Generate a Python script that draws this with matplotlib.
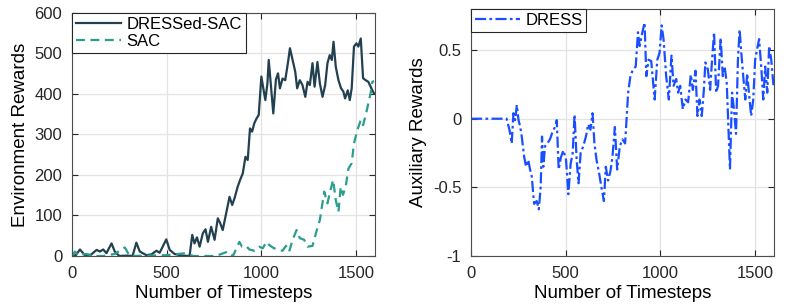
import matplotlib
matplotlib.use("Agg")
import matplotlib.pyplot as plt
import numpy as np

plt.rcParams["font.family"] = ["Liberation Sans", "DejaVu Sans"]

# DRESSed-SAC
dsac_t = [0, 20, 42, 68, 100, 130, 147, 165, 182, 209, 226, 250, 290, 320, 340, 358,
          393, 420, 446, 463, 498, 516, 542, 580, 621, 635, 647, 660, 674, 691, 705,
          718, 735, 753, 770, 782, 796, 814, 832, 846, 858, 875, 888, 902, 916, 928,
          940, 951, 963, 975, 986, 1000, 1011, 1021, 1032, 1039, 1051, 1063, 1077,
          1088, 1098, 1112, 1126, 1140, 1151, 1165, 1179, 1189, 1203, 1217, 1232,
          1244, 1256, 1270, 1281, 1296, 1309, 1323, 1337, 1349, 1361, 1372, 1381,
          1393, 1407, 1421, 1433, 1442, 1456, 1467, 1477, 1489, 1502, 1512, 1525,
          1537, 1551, 1565, 1579, 1595]
dsac_v = [0, 2, 16, 2, 3, 15, 11, 16, 7, 31, 11, 0, 1, 0, 33, 11,
          2, 4, 13, 8, 41, 15, 5, 1, 0, 52, 31, 46, 23, 56, 66,
          35, 72, 40, 93, 82, 64, 105, 146, 126, 142, 171, 188, 204, 245, 237,
          315, 307, 328, 340, 348, 443, 412, 385, 426, 484, 418, 352, 436,
          451, 414, 438, 434, 476, 513, 484, 455, 414, 434, 422, 393,
          430, 422, 476, 418, 479, 426, 393, 422, 476, 496, 484, 529,
          467, 434, 414, 406, 389, 409, 385, 414, 517, 525, 517, 537,
          439, 434, 430, 416, 401]

# SAC
sac_t = [0, 16, 33, 55, 77, 112, 165, 226, 279, 305, 400, 500, 603, 640, 700, 760,
         823, 850, 884, 898, 919, 937, 963, 989, 1007, 1028, 1042, 1060, 1086,
         1112, 1130, 1147, 1165, 1186, 1203, 1226, 1244, 1270, 1288, 1309, 1332,
         1349, 1361, 1379, 1393, 1407, 1419, 1431, 1445, 1460, 1477, 1489, 1507,
         1525, 1537, 1551, 1565, 1577, 1586, 1595]
sac_v = [0, 11, 2, 4, 5, 0, 0, 5, 21, 0, 1, 2, 7, 0, 0, 0,
         11, 0, 35, 23, 25, 16, 13, 23, 19, 35, 27, 21, 15,
         13, 25, 11, 40, 64, 44, 40, 23, 25, 56, 89, 159,
         130, 155, 188, 138, 109, 171, 151, 171, 216, 229, 278, 311,
         336, 323, 348, 377, 402, 430, 432]

# DRESS auxiliary reward (right panel)
dress_t = [0, 188, 203, 215, 224, 233, 242, 251, 260, 268, 281, 291, 302, 312, 321,
           333, 347, 358, 368, 375, 382, 391, 403, 417, 432, 444, 453, 463, 475,
           488, 502, 514, 526, 537, 547, 558, 568, 579, 593, 607, 619, 631, 642,
           652, 663, 677, 689, 702, 712, 724, 737, 747, 760, 772, 786, 800, 814,
           830, 842, 856, 870, 882, 891, 905, 917, 926, 938, 952, 970, 984, 996,
           1007, 1017, 1031, 1045, 1059, 1070, 1084, 1094, 1105, 1119, 1133, 1147,
           1161, 1172, 1186, 1196, 1207, 1219, 1230, 1238, 1251, 1263, 1273, 1284,
           1295, 1305, 1319, 1330, 1340, 1351, 1361, 1368, 1379, 1389, 1400, 1410,
           1419, 1428, 1438, 1449, 1459, 1470, 1480, 1491, 1501, 1512, 1522, 1533,
           1544, 1554, 1565, 1575, 1586, 1598]
dress_v = [0, 0, -0.08, -0.18, 0.04, -0.01, 0.10, -0.01, -0.06, -0.13, -0.28, -0.35,
           -0.30, -0.37, -0.42, -0.62, -0.60, -0.66, -0.50, -0.13, -0.35, -0.20,
           -0.18, -0.15, -0.09, -0.06, -0.01, -0.37, -0.28, -0.23, -0.30, -0.55,
           -0.33, -0.25, 0.03, -0.30, -0.47, -0.25, -0.20, -0.13, -0.04, -0.08,
           0.04, -0.18, -0.30, -0.40, -0.50, -0.60, -0.35, -0.45, -0.38, -0.28,
           -0.06, -0.37, -0.20, -0.15, -0.18, 0.19, 0.31, 0.36, 0.38, 0.63, 0.53,
           0.63, 0.70, 0.31, 0.43, 0.42, 0.14, 0.43, 0.48, 0.68, 0.58, 0.31, 0.14,
           0.46, 0.24, 0.29, 0.19, 0.24, 0.07, 0.14, 0.12, 0.32, 0.21, 0.35, 0.02,
           0.14, 0.02, 0.21, 0.41, 0.36, 0.21, 0.42, 0.63, 0.19, 0.24, 0.59, 0.31,
           0.38, 0.26, -0.11, -0.37, 0.19, 0.07, -0.11, 0.43, 0.65, 0.48, 0.31,
           0.14, 0.33, 0.16, 0.02, 0.14, 0.43, 0.51, 0.58, 0.38, 0.14, 0.38, 0.19,
           0.53, 0.43, 0.24]

x_ticks = [0, 500, 1000, 1500]


def style_axes(ax):
    """MATLAB-like box, inward ticks and light grid."""
    ax.grid(True, color="#e3e3e3", linewidth=0.9)
    ax.set_axisbelow(True)
    for s in ax.spines.values():
        s.set_color("#4d4d4d")
        s.set_linewidth(0.8)
    ax.tick_params(direction="in", top=True, right=True, length=4,
                   labelsize=12, colors="#262626", pad=7)
    ax.set_xticks(x_ticks)
    ax.set_xticklabels([str(t) for t in x_ticks])
    ax.set_xlim(0, 1600)
    ax.set_xlabel("Number of Timesteps", fontsize=13.5, labelpad=3)


def add_legend(ax):
    leg = ax.legend(loc="upper left", fontsize=12, fancybox=False, borderaxespad=0,
                    handlelength=2.7, handletextpad=0.3, borderpad=0.25,
                    labelspacing=0.1, framealpha=1)
    leg.get_frame().set_edgecolor("#262626")
    leg.get_frame().set_linewidth(0.8)


fig = plt.figure(figsize=(7.97, 3.05), dpi=100)

ax1 = fig.add_axes([0.0903, 0.1607, 0.3802, 0.7967])
ax1.plot(dsac_t, dsac_v, color="#22404f", linewidth=1.6, label="DRESSed-SAC")
ax1.plot(sac_t, sac_v, color="#2a9d8f", linewidth=1.6, linestyle=(0, (4, 2.5)),
         label="SAC")
ax1.set_ylim(0, 600)
ax1.set_yticks([0, 100, 200, 300, 400, 500, 600])
style_axes(ax1)
ax1.set_ylabel("Environment Rewards", fontsize=13.5, labelpad=4)
add_legend(ax1)

ax2 = fig.add_axes([0.591, 0.1607, 0.380, 0.810])
ax2.plot(dress_t, dress_v, color="#1a4fff", linewidth=1.6,
         linestyle=(0, (5, 1.5, 1.2, 1.5)), label="DRESS")
ax2.set_ylim(-1, 0.8)
ax2.set_yticks([-1, -0.5, 0, 0.5])
ax2.set_yticklabels(["-1", "-0.5", "0", "0.5"])
style_axes(ax2)
ax2.set_ylabel("Auxiliary Rewards", fontsize=13.5, labelpad=4)
add_legend(ax2)

fig.savefig("out.png", dpi=100)
